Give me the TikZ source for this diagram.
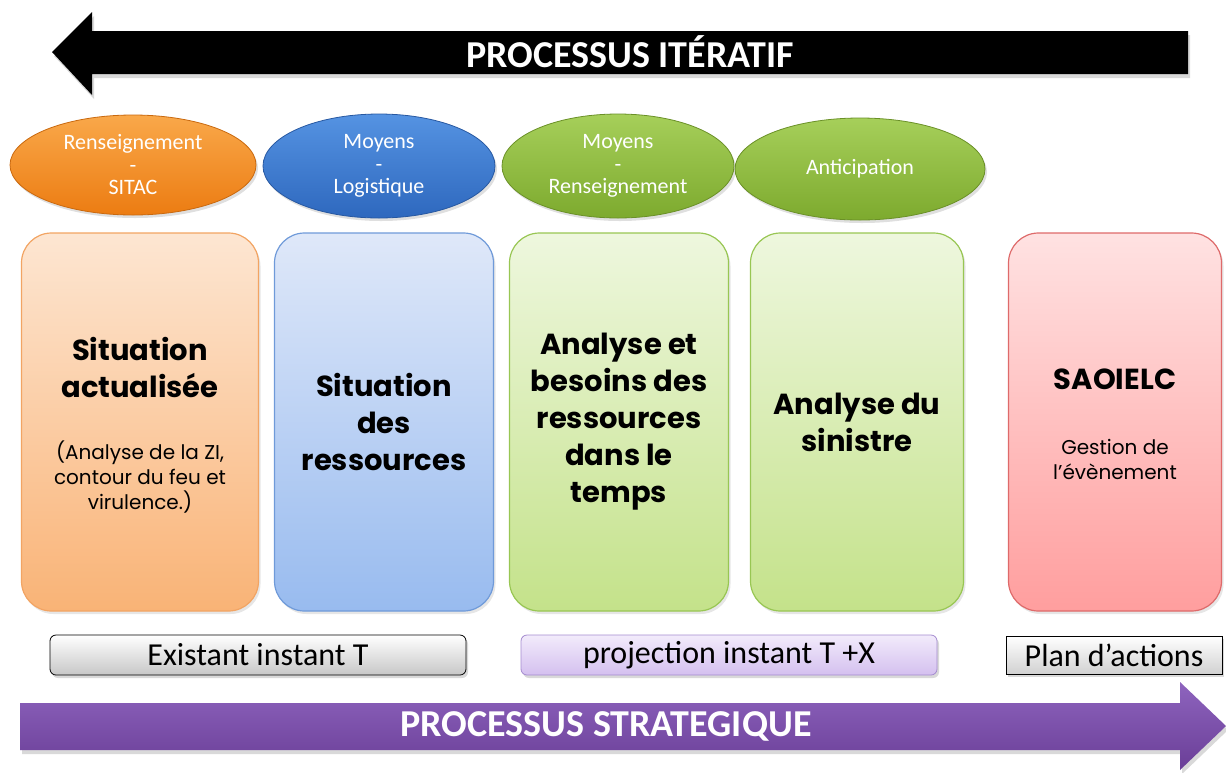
\documentclass[tikz,border=0pt]{standalone}
\usepackage{fontspec}
\setmainfont{Carlito}
\newfontfamily\panelfont{Poppins}
\usetikzlibrary{shapes.geometric,shadows}

\definecolor{orangeTop}{HTML}{F9A84A}
\definecolor{orangeBot}{HTML}{EC7C12}
\definecolor{blueTop}{HTML}{5593E2}
\definecolor{blueBot}{HTML}{2E68BE}
\definecolor{greenTop}{HTML}{A6CF5A}
\definecolor{greenBot}{HTML}{7DAA2E}
\definecolor{purpleTop}{HTML}{8E64BE}
\definecolor{purpleBot}{HTML}{6A3E97}
\definecolor{peachTop}{HTML}{FDE6D2}
\definecolor{peachBot}{HTML}{F9B376}
\definecolor{peachLine}{HTML}{F2A463}
\definecolor{skyTop}{HTML}{DFE8F9}
\definecolor{skyBot}{HTML}{98BBEF}
\definecolor{skyLine}{HTML}{6F9AD9}
\definecolor{limeTop}{HTML}{EEF7DE}
\definecolor{limeBot}{HTML}{C4E28A}
\definecolor{limeLine}{HTML}{98C653}
\definecolor{roseTop}{HTML}{FFE2E2}
\definecolor{roseBot}{HTML}{FF9E9E}
\definecolor{roseLine}{HTML}{DE6A6A}
\definecolor{lilacTop}{HTML}{F2EBFB}
\definecolor{lilacBot}{HTML}{D4C0EF}
\definecolor{lilacLine}{HTML}{A48BCF}

\begin{document}
\begin{tikzpicture}[
        x=0.5pt, y=-0.5pt,
        bubble/.style={ellipse, minimum width=123pt, minimum height=50pt, inner sep=0pt,
            text=white, align=center, font=\fontsize{11}{11.25}\selectfont,
            drop shadow={opacity=0.25, shadow xshift=1pt, shadow yshift=-1.5pt}},
        panel/.style={rounded corners=15pt, minimum height=189pt, inner sep=0pt,
            align=center, line width=0.6pt,
            font=\panelfont\bfseries\fontsize{14.5}{18.5}\selectfont,
            drop shadow={opacity=0.2, shadow xshift=1pt, shadow yshift=-1.5pt}},
        ptitle/.style={align=center, font=\panelfont\bfseries\fontsize{14.5}{18.5}\selectfont},
        pnote/.style={align=center, font=\panelfont\fontsize{10}{12.5}\selectfont},
        tag/.style={minimum width=208pt, minimum height=20pt, inner sep=0pt,
            rounded corners=3pt, font=\fontsize{16}{18}\selectfont,
            drop shadow={opacity=0.3, shadow xshift=1pt, shadow yshift=-1.5pt}},
        headline/.style={text=white, font=\bfseries\fontsize{19}{22}\selectfont},
    ]
    % bounding box
    \useasboundingbox (0,0) rectangle (1226,772);

    % top arrow
    \fill[black, drop shadow={opacity=0.3, shadow xshift=1pt, shadow yshift=-2pt}]
        (52,52) -- (92,12) -- (92,31) -- (1188,31) -- (1188,74) -- (92,74) -- (92,95) -- cycle;
    \node[headline] (iteratif) at (630,52) {PROCESSUS ITÉRATIF};

    % ellipses
    \node[bubble, top color=orangeTop, bottom color=orangeBot, draw=orangeBot!85!black] (sitac) at (133,165) {Renseignement\\-\\SITAC};
    \node[bubble, minimum width=116pt, minimum height=52pt, top color=blueTop, bottom color=blueBot, draw=blueBot!85!black] (logistique) at (379,166) {Moyens\\-\\Logistique};
    \node[bubble, minimum width=116pt, minimum height=52pt, top color=greenTop, bottom color=greenBot, draw=greenBot!85!black] (renseignement) at (618,166) {Moyens\\-\\Renseignement};
    \node[bubble, minimum width=125pt, minimum height=51pt, top color=greenTop, bottom color=greenBot, draw=greenBot!85!black] (anticipation) at (860,169) {Anticipation};

    % panels
    \node[panel, minimum width=118.5pt, top color=peachTop, bottom color=peachBot, draw=peachLine] (actuel) at (140,422) {};
    \node[ptitle] (actuelT) at (140,367) {Situation\\actualisée};
    \node[pnote] (actuelN) at (140,477) {(Analyse de la ZI,\\contour du feu et\\virulence.)};

    \node[panel, minimum width=109.5pt, top color=skyTop, bottom color=skyBot, draw=skyLine] (ressources) at (384,422) {Situation\\des\\ressources};

    \node[panel, minimum width=109.5pt, top color=limeTop, bottom color=limeBot, draw=limeLine] (besoins) at (619,422) {Analyse et\\besoins des\\ressources\\dans le\\temps};

    \node[panel, minimum width=106.5pt, top color=limeTop, bottom color=limeBot, draw=limeLine] (sinistre) at (857,422) {Analyse du\\sinistre};

    \node[panel, minimum width=106.5pt, top color=roseTop, bottom color=roseBot, draw=roseLine] (saoielc) at (1115,422) {};
    \node[ptitle] (saoielcT) at (1115,379) {SAOIELC};
    \node[pnote] (saoielcN) at (1115,459) {Gestion de\\l’évènement};

    % tags
    \node[tag, top color=white, bottom color=black!22, draw=black] (existant) at (258,655) {Existant instant T};
    \node[tag, top color=lilacTop, bottom color=lilacBot, draw=lilacLine] (projection) at (729,655) {projection instant T +X};
    \node[tag, minimum width=108pt, minimum height=19pt, rounded corners=0pt, top color=white, bottom color=black!18, draw=black] (plan) at (1114,655) {Plan d’actions};

    % bottom arrow
    \shade[top color=purpleTop, bottom color=purpleBot, drop shadow={opacity=0.3, shadow xshift=1pt, shadow yshift=-2pt}]
        (20,703) -- (1180,703) -- (1180,682) -- (1226,726) -- (1180,770) -- (1180,750) -- (20,750) -- cycle;
    \node[headline] (strategique) at (606,726) {PROCESSUS STRATEGIQUE};
\end{tikzpicture}
\end{document}
